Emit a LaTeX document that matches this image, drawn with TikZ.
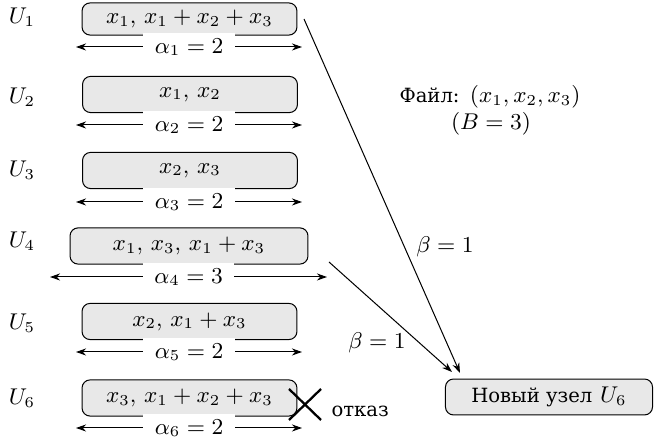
\documentclass[tikz,border=0pt]{standalone}
\usepackage{fontspec}
\newfontfamily\myserifcyr[Script=Cyrillic,Scale=0.86]{DejaVu Serif}
\usetikzlibrary{arrows.meta,calc}
\begin{document}
\begin{tikzpicture}[x=0.395pt,y=-0.395pt,font=\small,
  box/.style={draw,fill=gray!18,rounded corners=3.2pt,minimum width=84.9pt,minimum height=14.3pt,inner sep=2pt},
  topbox/.style={box,minimum height=12.7pt},
  widebox/.style={box,minimum width=94pt},
  newbox/.style={box,minimum width=81.8pt,minimum height=14.2pt},
  tip/.style={-{Stealth[length=4pt,width=2.8pt]}},
  dim/.style={{Stealth[length=4pt,width=2.8pt]}-{Stealth[length=4pt,width=2.8pt]}},
  lab/.style={fill=white,inner xsep=4.5pt,inner ysep=2pt},
  cross/.style={line width=0.9pt}]
\useasboundingbox (0,0) rectangle (654,446);
% labels
\node (l1) at (22,17) {$U_1$};
\node (l2) at (22,97) {$U_2$};
\node (l3) at (22,170) {$U_3$};
\node (l4) at (22,241) {$U_4$};
\node (l5) at (22,323) {$U_5$};
\node (l6) at (22,398) {$U_6$};
% boxes
\node[topbox] (b1) at (189.5,19) {$x_1,\,x_1+x_2+x_3$};
\node[box] (b2) at (190,94.5) {$x_1,\,x_2$};
\node[box] (b3) at (190,170.5) {$x_2,\,x_3$};
\node[widebox] (b4) at (189,246) {$x_1,\,x_3,\,x_1+x_3$};
\node[box] (b5) at (189.5,321.5) {$x_2,\,x_1+x_3$};
\node[box] (b6) at (189.5,398) {$x_3,\,x_1+x_2+x_3$};
% dimension arrows
\coordinate (a1l) at (76,47);  \coordinate (a1r) at (302,47);
\coordinate (a2l) at (76,125); \coordinate (a2r) at (302,125);
\coordinate (a3l) at (76,202); \coordinate (a3r) at (302,202);
\coordinate (a4l) at (50,277); \coordinate (a4r) at (327,277);
\coordinate (a5l) at (76,352); \coordinate (a5r) at (302,352);
\coordinate (a6l) at (76,428); \coordinate (a6r) at (302,428);
\draw[dim] (a1l) -- node[lab] {$\alpha_1=2$} (a1r);
\draw[dim] (a2l) -- node[lab] {$\alpha_2=2$} (a2r);
\draw[dim] (a3l) -- node[lab] {$\alpha_3=2$} (a3r);
\draw[dim] (a4l) -- node[lab] {$\alpha_4=3$} (a4r);
\draw[dim] (a5l) -- node[lab] {$\alpha_5=2$} (a5r);
\draw[dim] (a6l) -- node[lab] {$\alpha_6=2$} (a6r);
% failure mark
\coordinate (x1) at (289,389); \coordinate (x2) at (321,420);
\coordinate (x3) at (289,420); \coordinate (x4) at (321,389);
\draw[cross] (x1) -- (x2);
\draw[cross] (x3) -- (x4);
\node[anchor=west,inner sep=0pt] (fail) at (331,411) {\myserifcyr отказ};
% file info
\node (file) at (490,97) {{\myserifcyr Файл:} $(x_1,x_2,x_3)$};
\node (bb) at (491,124) {$(B=3)$};
% new node
\node[newbox] (N) at (549,397) {{\myserifcyr Новый узел} $U_6$};
% transfers
\coordinate (s1) at (304,19);
\coordinate (s2) at (329,262);
\coordinate (t1) at (460,373);
\coordinate (t2) at (452,372);
\draw[tip] (s1) -- (t1);
\draw[tip] (s2) -- (t2);
\node (beta1) at (445,247) {$\beta=1$};
\node (beta2) at (377,343) {$\beta=1$};
\end{tikzpicture}
\end{document}
